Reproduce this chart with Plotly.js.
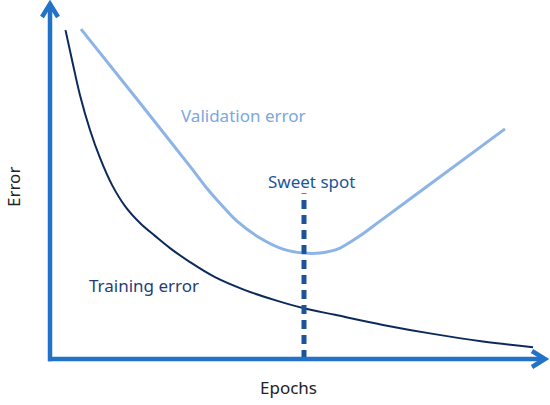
<!DOCTYPE html>
<html>
<head>
<meta charset="utf-8">
<script src="https://cdn.plot.ly/plotly-3.0.1.min.js"></script>
<style>
html,body{margin:0;padding:0;background:#fff;}
#chart{width:550px;height:405px;}
</style>
</head>
<body>
<div id="chart"></div>
<script>
// Epochs (0-100) and error (0-100)
var trainEpochs = [3.1, 4.4, 6, 8, 10, 12.4, 15, 18, 21, 24, 28, 33, 39, 45, 50.6, 57, 66.6, 76.6, 86.6, 96.6];
var trainError  = [91.6, 83.3, 73.5, 63.8, 56.0, 48.5, 42.6, 37.9, 34.3, 30.9, 27.0, 22.8, 19.2, 16.4, 14.2, 12.3, 9.5, 7.0, 4.9, 3.3];
var valEpochs = [6.2, 18, 28.6, 31, 33.4, 37.4, 42, 46.6, 50.6, 54, 58, 62, 66, 76.6, 91];
var valError  = [91.9, 71.3, 52.6, 48.2, 44.3, 38.4, 33.7, 30.6, 29.5, 29.5, 30.9, 34.3, 38.4, 49.3, 64.1];
var sweetSpotEpoch = 50.8;
var sweetSpotTop = 46.2;
var labels = {sweet: "Sweet spot", val: "Validation error", train: "Training error", x: "Epochs", y: "Error"};

var axisBlue = "#2272c8";
var traces = [
  {x: trainEpochs, y: trainError, mode: "lines", line: {color: "#0b2a5c", width: 2, shape: "spline", smoothing: 1}, hoverinfo: "skip"},
  {x: valEpochs, y: valError, mode: "lines", line: {color: "#8db4e7", width: 3, shape: "spline", smoothing: 0.7}, hoverinfo: "skip"},
  {x: [sweetSpotEpoch, sweetSpotEpoch], y: [0, sweetSpotTop], mode: "lines", line: {color: "#1c5399", width: 5, dash: "9px,6px"}, hoverinfo: "skip"}
];

var fontFam = "Noto Sans, Open Sans, sans-serif";
var layout = {
  width: 550, height: 405,
  margin: {l: 0, r: 0, t: 0, b: 0},
  paper_bgcolor: "#fff", plot_bgcolor: "#fff",
  showlegend: false,
  xaxis: {range: [-10, 100], visible: false, fixedrange: true},
  yaxis: {range: [-12.81, 100], visible: false, fixedrange: true},
  shapes: [
    {type: "line", xref: "x", yref: "y", x0: -0.4, x1: 98.6, y0: 0, y1: 0, line: {color: axisBlue, width: 4.5}},
    {type: "line", xref: "x", yref: "y", x0: 0, x1: 0, y0: -0.6, y1: 98.4, line: {color: axisBlue, width: 4.5}},
    {type: "path", xref: "x", yref: "y", xsizemode: "pixel", ysizemode: "pixel", xanchor: 99, yanchor: 0,
     path: "M -13 -8 L 0 0 L -13 8", line: {color: axisBlue, width: 4.5}},
    {type: "path", xref: "x", yref: "y", xsizemode: "pixel", ysizemode: "pixel", xanchor: 0, yanchor: 98.9,
     path: "M -8 -13 L 0 0 L 8 -13", line: {color: axisBlue, width: 4.5}}
  ],
  annotations: [
    {x: 52.3, y: 49.4, xref: "x", yref: "y", text: labels.sweet, showarrow: false, font: {family: fontFam, size: 17, color: "#1c549c"}},
    {x: 38.7, y: 67.7, xref: "x", yref: "y", text: labels.val, showarrow: false, font: {family: fontFam, size: 17, color: "#7ba7e2"}},
    {x: 18.8, y: 20.6, xref: "x", yref: "y", text: labels.train, showarrow: false, font: {family: fontFam, size: 17, color: "#1f3e78"}},
    {x: 47.6, y: -7.8, xref: "x", yref: "y", text: labels.x, showarrow: false, font: {family: fontFam, size: 17, color: "#222"}},
    {x: -7.4, y: 47.9, xref: "x", yref: "y", text: labels.y, showarrow: false, textangle: -90, font: {family: fontFam, size: 17, color: "#222"}}
  ]
};
Plotly.newPlot("chart", traces, layout, {staticPlot: true, displayModeBar: false});
</script>
</body>
</html>
